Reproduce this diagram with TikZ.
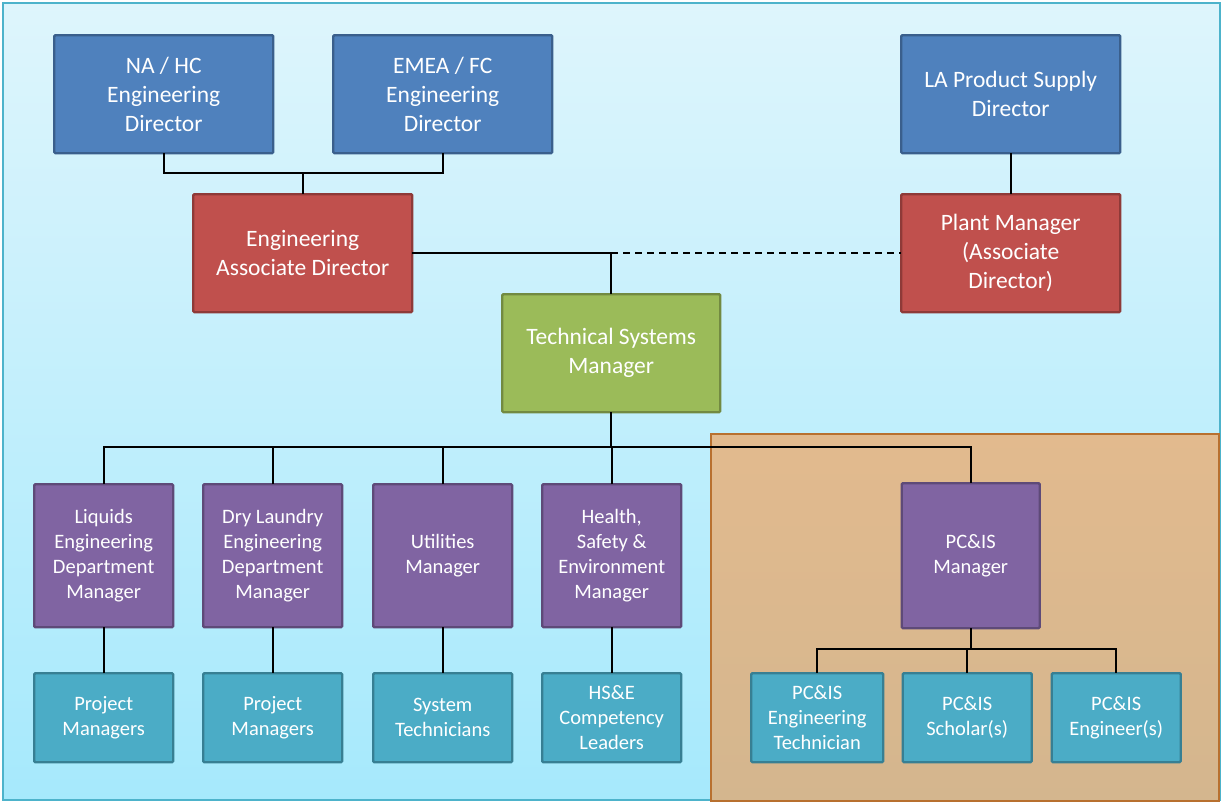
\documentclass[tikz,border=0pt]{standalone}
\usepackage{fontspec}
\setmainfont{Carlito}
\begin{document}
\begin{tikzpicture}[x=1pt,y=-1pt,
  box/.style={draw, line width=2.4pt, rounded corners=1.2pt, text=white,
    align=center, inner sep=0pt, outer sep=0pt, anchor=north west},
  bigtext/.style={font=\fontsize{23.5}{29}\selectfont},
  smalltext/.style={font=\fontsize{20.5}{25.2}\selectfont},
  bluebox/.style={box, bigtext, fill=boxblue, draw=boxblueline},
  redbox/.style={box, bigtext, fill=boxred, draw=boxredline},
  greenbox/.style={box, bigtext, fill=boxgreen, draw=boxgreenline},
  purplebox/.style={box, smalltext, fill=boxpurple, draw=boxpurpleline},
  cyanbox/.style={box, smalltext, fill=boxcyan, draw=boxcyanline},
  link/.style={draw=black, line width=1.6pt},
  dottedlink/.style={link, dash pattern=on 7pt off 5pt}]
\definecolor{boxblue}{HTML}{4F81BD}
\definecolor{boxblueline}{HTML}{3A5F8C}
\definecolor{boxred}{HTML}{C0504D}
\definecolor{boxredline}{HTML}{8E3A38}
\definecolor{boxgreen}{HTML}{9BBB59}
\definecolor{boxgreenline}{HTML}{728A41}
\definecolor{boxpurple}{HTML}{8064A2}
\definecolor{boxpurpleline}{HTML}{5E4A78}
\definecolor{boxcyan}{HTML}{4BACC6}
\definecolor{boxcyanline}{HTML}{377F93}
\definecolor{bgtop}{HTML}{DEF5FC}
\definecolor{bgbottom}{HTML}{A6E9FC}
\definecolor{bgline}{HTML}{4DB3CB}
\definecolor{teamtop}{HTML}{E2BA8E}
\definecolor{teambottom}{HTML}{D4B68E}
\definecolor{teamline}{HTML}{B8702F}

\useasboundingbox (0,0) rectangle (1225,803);
% backdrop panel
\shade[top color=bgtop, bottom color=bgbottom] (3,3) rectangle (1220,800);
\draw[bgline, line width=1.5pt] (3,3) rectangle (1220,800);
% PC&IS team panel
\shade[top color=teamtop, bottom color=teambottom] (711,434) rectangle (1219,801);
\draw[teamline, line width=2.5pt] (711,434) rectangle (1219,801);

% directors
\node[bluebox, minimum width=219pt, minimum height=118pt] (nahc) at (54.2,35.2) {NA / HC\\Engineering\\Director};
\node[bluebox, minimum width=219pt, minimum height=118pt] (emea) at (333.2,35.2) {EMEA / FC\\Engineering\\Director};
\node[bluebox, minimum width=219pt, minimum height=118pt] (la) at (901.2,35.2) {LA Product Supply\\Director};
% associate directors
\node[redbox, minimum width=219pt, minimum height=118pt] (ead) at (193.2,194.2) {Engineering\\Associate Director};
\node[redbox, minimum width=219pt, minimum height=118pt] (plant) at (901.2,194.2) {Plant Manager\\(Associate\\Director)};
% technical systems manager
\node[greenbox, minimum width=218pt, minimum height=118pt] (tsm) at (502.2,294.2) {Technical Systems\\Manager};
% department managers
\node[purplebox, minimum width=139pt, minimum height=143pt] (liq) at (34.2,484.2) {Liquids\\Engineering\\Department\\Manager};
\node[purplebox, minimum width=139pt, minimum height=143pt] (dry) at (203.2,484.2) {Dry Laundry\\Engineering\\Department\\Manager};
\node[purplebox, minimum width=139pt, minimum height=143pt] (util) at (373.2,484.2) {Utilities\\Manager};
\node[purplebox, minimum width=139pt, minimum height=143pt] (hse) at (542.2,484.2) {Health,\\Safety \&\\Environment\\Manager};
\node[purplebox, minimum width=138pt, minimum height=145pt] (pcis) at (901.7,483.2) {PC\&IS\\Manager};
% teams
\node[cyanbox, minimum width=139pt, minimum height=89pt] (pm1) at (34.2,673.2) {Project\\Managers};
\node[cyanbox, minimum width=139pt, minimum height=89pt] (pm2) at (203.2,673.2) {Project\\Managers};
\node[cyanbox, minimum width=139pt, minimum height=89pt] (tech) at (373.2,673.2) {System\\Technicians};
\node[cyanbox, minimum width=139pt, minimum height=89pt] (hsel) at (542.2,673.2) {HS\&E\\Competency\\Leaders};
\node[cyanbox, minimum width=132pt, minimum height=89pt] (pct) at (751.2,673.2) {PC\&IS\\Engineering\\Technician};
\node[cyanbox, minimum width=129pt, minimum height=89pt] (pcs) at (902.7,673.2) {PC\&IS\\Scholar(s)};
\node[cyanbox, minimum width=129pt, minimum height=89pt] (pce) at (1051.7,673.2) {PC\&IS\\Engineer(s)};

% junction points (yshift is in page direction: positive is upward)
\coordinate (dirjoin) at ([yshift=21pt]ead.north);
\coordinate (tsmjoin) at (tsm.north |- ead.east);
\coordinate (bus) at ([yshift=-35pt]tsm.south);
\coordinate (pcbus) at ([yshift=-21pt]pcis.south);

% reporting lines
\draw[link] (nahc.south) |- (dirjoin) -| (emea.south);
\draw[link] (dirjoin) -- (ead.north);
\draw[link] (ead.east) -- (tsmjoin) -- (tsm.north);
\draw[dottedlink] (tsmjoin) -- (plant.west);
\draw[link] (la.south) -- (plant.north);
\draw[link] (tsm.south) -- (bus);
\draw[link] (liq.north) |- (bus) -| (pcis.north);
\draw[link] (dry.north) -- (dry.north |- bus);
\draw[link] (util.north) -- (util.north |- bus);
\draw[link] (hse.north) -- (hse.north |- bus);
\draw[link] (pcis.south) -- (pcbus);
\draw[link] (pct.north) |- (pcbus) -| (pce.north);
\draw[link] (pcs.north) -- (pcs.north |- pcbus);
\foreach \a/\b in {liq/pm1, dry/pm2, util/tech, hse/hsel}
  \draw[link] (\a.south) -- (\b.north);
\end{tikzpicture}
\end{document}
